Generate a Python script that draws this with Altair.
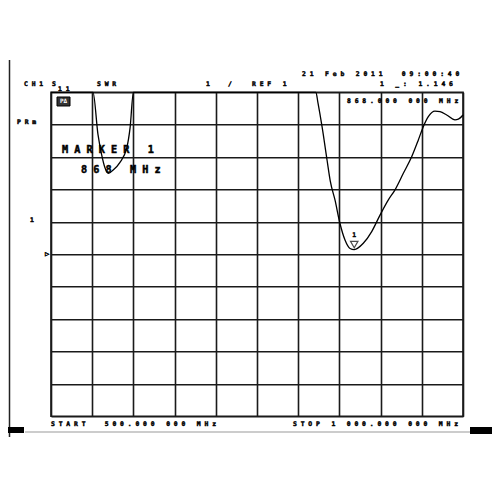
import altair as alt
import pandas as pd

freq_mhz = [500, 551, 557, 561.5, 565.5, 569.5, 575.5, 583.5, 592, 596, 600,
            821.5, 824, 829, 835, 839, 844.7, 850.7, 856.8, 862.9, 868,
            879, 889.2, 899.3, 909.4, 917.5, 927.6, 937.7, 945.8, 951.8, 957.9,
            966, 972.1, 980.2, 990.3, 994.3, 1000]
swr = [6, 6, 4.7, 4.07, 3.67, 3.5, 3.6, 3.83, 4.29, 4.91, 6,
       6, 5.67, 4.93, 3.91, 3.25, 2.67, 1.95, 1.44, 1.18, 1.146,
       1.34, 1.70, 2.21, 2.68, 2.99, 3.50, 4.01, 4.53, 4.94, 5.25,
       5.42, 5.40, 5.30, 5.15, 5.17, 5.30]
marker_freq = [868]
marker_swr = [1.146]
x_ticks = [500, 550, 600, 650, 700, 750, 800, 850, 900, 950, 1000]
y_ticks = [-4, -3, -2, -1, 0, 1, 2, 3, 4, 5, 6]

trace = pd.DataFrame({"f": freq_mhz, "s": swr})
marker = pd.DataFrame({"f": marker_freq, "s": marker_swr})

FONT = "DejaVu Sans Mono"
X0, Y0 = 51, 92.3  # page position of plot origin (layout)
W, H = 412, 324

xs = alt.Scale(domain=[500, 1000], nice=False, zero=False)
ys = alt.Scale(domain=[-4, 6], nice=False, zero=False)
xax = alt.Axis(values=x_ticks, grid=True, labels=False, ticks=False, domain=False,
               title=None, gridColor="#1a1a1a", gridWidth=1.6, gridOpacity=1)
yax = alt.Axis(values=y_ticks, grid=True, labels=False, ticks=False, domain=False,
               title=None, gridColor="#1a1a1a", gridWidth=1.6, gridOpacity=1)

one = alt.Data(values=[{"a": 1}])


def sp(s):
    s = s.replace(" ", "\u00a0")
    return "\u00a0".join(s)


def label(txt, px, py, size=6.4, spaced=True, align="left", baseline="middle", sw=0.45):
    t = sp(txt) if spaced else txt
    return alt.Chart(one).mark_text(
        text=t, font=FONT, fontSize=size, fontWeight="bold", align=align,
        baseline=baseline, color="black", stroke="black", strokeWidth=sw
    ).encode(x=alt.value(px - X0), y=alt.value(py - Y0))


line = alt.Chart(trace).mark_line(color="black", strokeWidth=1.3, interpolate="monotone").encode(
    x=alt.X("f:Q", scale=xs, axis=xax),
    y=alt.Y("s:Q", scale=ys, axis=yax),
)

mk_tri = alt.Chart(marker).mark_point(
    shape="triangle-down", size=55, filled=False, stroke="black", strokeWidth=1.2, yOffset=-5
).encode(x=alt.X("f:Q", scale=xs, axis=xax), y=alt.Y("s:Q", scale=ys, axis=yax))
mk_num = alt.Chart(marker).mark_text(
    text="1", font=FONT, fontSize=6.4, fontWeight="bold", baseline="middle", dy=-15,
    color="black", stroke="black", strokeWidth=0.4
).encode(x=alt.X("f:Q", scale=xs, axis=xax), y=alt.Y("s:Q", scale=ys, axis=yax))

texts = [
    label("CH1", 24, 84),
    label("S", 52, 84),
    label("11", 58, 89.5),
    label("SWR", 97, 84),
    label("1", 206, 84),
    label("/", 228, 84),
    label("REF 1", 252, 84),
    label("21 Feb 2011  09:00:40", 302, 74),
    label("1 _: 1.146", 380, 84),
    label("868.000 000 MHz", 347, 101),
    label("PRm", 17, 122),
    label("MARKER 1", 62, 150, size=10.2, sw=0.5),
    label("868 MHz", 81, 170, size=10.2, sw=0.5),
    label("1", 30, 220),
    label("\u25b7", 45, 254, size=7, spaced=False),
    label("START  500.000 000 MHz", 51, 424),
    label("STOP 1 000.000 000 MHz", 293, 424),
]

icon_box = alt.Chart(one).mark_rect(fill="#333", stroke="black").encode(
    x=alt.value(57 - X0), x2=alt.value(70 - X0), y=alt.value(97 - Y0), y2=alt.value(106 - Y0))
icon_txt = alt.Chart(one).mark_text(text="P\u0394", font=FONT, fontSize=6, fontWeight="bold",
                                    color="white", align="center", baseline="middle").encode(
    x=alt.value(63.5 - X0), y=alt.value(101.5 - Y0))

left_line = alt.Chart(one).mark_rule(color="#222", strokeWidth=1.5).encode(
    x=alt.value(9.5 - X0), y=alt.value(60 - Y0), y2=alt.value(437 - Y0))
bottom_line = alt.Chart(one).mark_rule(color="#999", strokeWidth=1.2).encode(
    x=alt.value(25 - X0), x2=alt.value(470 - X0), y=alt.value(432 - Y0))
blk1 = alt.Chart(one).mark_rect(color="black").encode(
    x=alt.value(8 - X0), x2=alt.value(24 - X0), y=alt.value(427 - Y0), y2=alt.value(433 - Y0))
blk2 = alt.Chart(one).mark_rect(color="black").encode(
    x=alt.value(470 - X0), x2=alt.value(492 - X0), y=alt.value(427 - Y0), y2=alt.value(434 - Y0))

chart = alt.layer(
    line, mk_tri, mk_num, *texts, icon_box, icon_txt, left_line, bottom_line, blk1, blk2
).properties(
    width=W, height=H,
    autosize=alt.AutoSizeParams(type="none"),
    padding={"left": 43, "top": 84.3, "right": 29, "bottom": 30},
    background="white",
).configure_view(stroke="#1a1a1a", strokeWidth=1.6)

chart.save("out.html", embed_options={"renderer": "svg", "actions": False})
